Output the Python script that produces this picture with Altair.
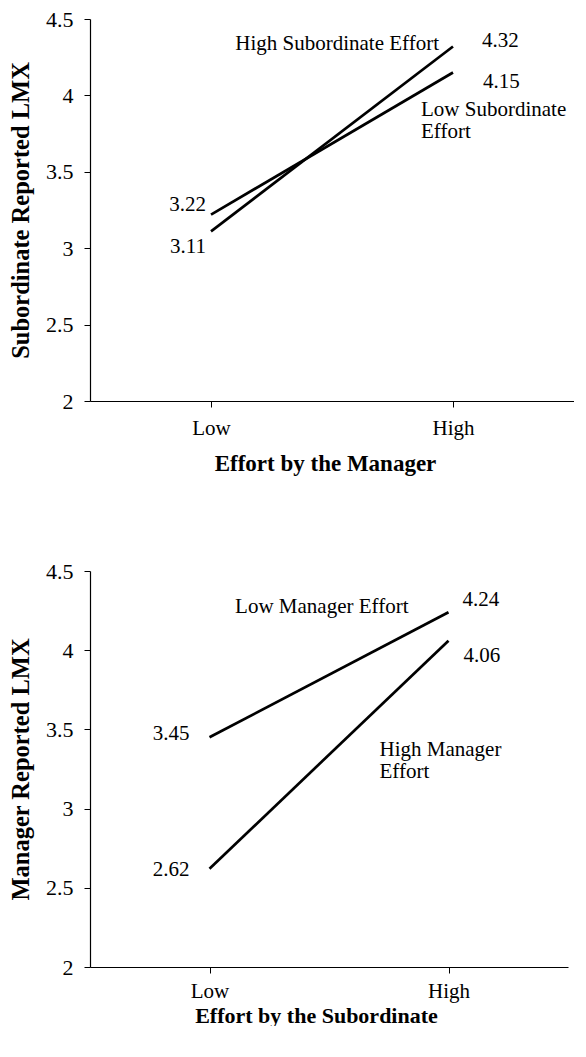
import altair as alt
import pandas as pd

levels = ["Low", "High"]
hi_sub = [3.11, 4.32]   # High Subordinate Effort (top panel)
lo_sub = [3.22, 4.15]   # Low Subordinate Effort (top panel)
lo_mgr = [3.45, 4.24]   # Low Manager Effort (bottom panel)
hi_mgr = [2.62, 4.06]   # High Manager Effort (bottom panel)
y_ticks = [2, 2.5, 3, 3.5, 4, 4.5]

top_names = ["High Subordinate Effort", "Low Subordinate\nEffort"]
bot_names = ["Low Manager Effort", "High Manager\nEffort"]
top_xtitle = "Effort by the Manager"
top_ytitle = "Subordinate Reported LMX"
bot_xtitle = "Effort by the Subordinate"
bot_ytitle = "Manager Reported LMX"

FONT = "Liberation Serif"
TXT = dict(font=FONT, fontSize=21, color="black")
AX = dict(labelFont=FONT, labelColor="black",
          titleFont=FONT, titleFontWeight="bold", titleColor="black",
          domainColor="black", domainWidth=1.2, tickColor="black", tickSize=6,
          tickWidth=1, grid=False)


def line_layer(a, b, name_a, name_b, xtitle, ytitle, titlex, lab_pad, title_pad, title_size):
    df = pd.DataFrame({
        "effort": levels * 2,
        "value": a + b,
        "series": [name_a] * 2 + [name_b] * 2,
    })
    return alt.Chart(df).mark_line(color="black", strokeWidth=2.7).encode(
        x=alt.X("effort:N", sort=levels,
                scale=alt.Scale(paddingInner=0, paddingOuter=0),
                axis=alt.Axis(title=xtitle, labelAngle=0, bandPosition=1,
                              titleX=titlex, titleAnchor="start", titleAlign="center",
                              labelFontSize=21, labelPadding=lab_pad,
                              titlePadding=title_pad, titleFontSize=title_size, **AX)),
        y=alt.Y("value:Q", scale=alt.Scale(domain=[2, 4.5], nice=False, zero=False),
                axis=alt.Axis(title=ytitle, values=y_ticks, format="~g",
                              labelFontSize=22, labelPadding=11, titlePadding=12,
                              titleFontSize=24.5, **AX)),
        detail="series:N",
    )


def note(effort, value, text, **mk):
    df = pd.DataFrame({"effort": [effort], "value": [value], "text": [text]})
    return alt.Chart(df).mark_text(lineBreak="\n", **TXT, **mk).encode(
        x=alt.X("effort:N", sort=levels),
        y=alt.Y("value:Q"),
        text="text:N",
    )


top = alt.layer(
    line_layer(hi_sub, lo_sub, top_names[0], top_names[1], top_xtitle, top_ytitle, 235, 10, 14, 23),
    note("High", hi_sub[1], f"{hi_sub[1]:.2f}", align="left", baseline="middle", dx=29, dy=-6),
    note("High", lo_sub[1], f"{lo_sub[1]:.2f}", align="left", baseline="middle", dx=30, dy=10),
    note("Low", lo_sub[0], f"{lo_sub[0]:.2f}", align="right", baseline="middle", dx=-5, dy=-10),
    note("Low", hi_sub[0], f"{hi_sub[0]:.2f}", align="right", baseline="middle", dx=-5, dy=16),
    note("High", hi_sub[1], top_names[0], align="right", baseline="middle", dx=-14, dy=-3),
    note("High", lo_sub[1], top_names[1], align="left", baseline="top", dx=-32, dy=27, lineHeight=22),
).properties(width=484, height=382)

bottom = alt.layer(
    line_layer(lo_mgr, hi_mgr, bot_names[0], bot_names[1], bot_xtitle, bot_ytitle, 226, 7, 4, 22),
    note("High", lo_mgr[1], f"{lo_mgr[1]:.2f}", align="left", baseline="middle", dx=14, dy=-12),
    note("High", hi_mgr[1], f"{hi_mgr[1]:.2f}", align="left", baseline="middle", dx=15, dy=15),
    note("Low", lo_mgr[0], f"{lo_mgr[0]:.2f}", align="right", baseline="middle", dx=-20, dy=-3),
    note("Low", hi_mgr[0], f"{hi_mgr[0]:.2f}", align="right", baseline="middle", dx=-20, dy=1),
    note("High", lo_mgr[1], bot_names[0], align="right", baseline="middle", dx=-40, dy=-5),
    note("High", hi_mgr[1], bot_names[1], align="left", baseline="top", dx=-69, dy=98, lineHeight=22),
).properties(width=478, height=396)

chart = alt.vconcat(top, bottom, spacing=85).properties(
    padding={"left": 0, "top": 0, "right": 0, "bottom": 0}
).configure(font=FONT).configure_view(stroke=None)

chart.save("out.html", embed_options={"renderer": "svg", "actions": False})
